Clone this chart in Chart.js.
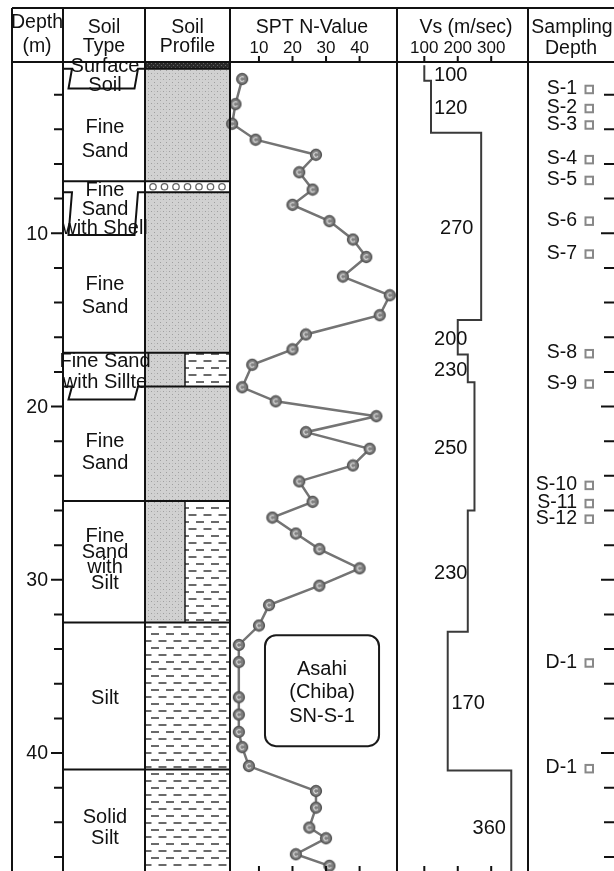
<!DOCTYPE html>
<html>
<head>
<meta charset="utf-8">
<title>Asahi (Chiba) SN-S-1 boring log</title>
<script src="https://cdn.jsdelivr.net/npm/chart.js@4/dist/chart.umd.min.js"></script>
<style>
  html, body { margin: 0; padding: 0; overflow: hidden; background: #fff; }
  #wrap { position: relative; width: 620px; height: 880px; }
</style>
</head>
<body>
<div id="wrap"><canvas id="log" width="620" height="880"></canvas></div>
<script>
// ---------------- Boring log data ----------------
const layerNames = [
  ["Surface", "Soil"],
  ["Fine", "Sand"],
  ["Fine", "Sand", "with Shell"],
  ["Fine", "Sand"],
  ["Fine Sand", "with Sillte"],
  ["Fine", "Sand"],
  ["Fine", "Sand", "with", "Silt"],
  ["Silt"],
  ["Solid", "Silt"]
];
const layerTops    = [0.0, 0.5, 7.0, 7.63, 16.9, 18.85, 25.45, 32.47, 40.95];
const layerBottoms = [0.5, 7.0, 7.63, 16.9, 18.85, 25.45, 32.47, 40.95, 47.5];
const layerKinds   = ["surface", "sand", "shell", "sand", "sandSilt", "sand", "sandSilt", "silt", "silt"];

// SPT N-values with their test depths (m)
const sptDepths = [1.1, 2.55, 3.68, 4.6, 5.47, 6.48, 7.48, 8.36, 9.3, 10.36,
                   11.37, 12.5, 13.58, 14.73, 15.84, 16.7, 17.59, 18.89, 19.7, 20.56,
                   21.48, 22.44, 23.4, 24.32, 25.5, 26.41, 27.33, 28.23, 29.34, 30.34,
                   31.46, 32.64, 33.76, 34.75, 36.78, 37.78, 38.78, 39.66, 40.75, 42.19,
                   43.15, 44.3, 44.92, 45.84, 46.51];
const sptValues = [5, 3, 2, 9, 27, 22, 26, 20, 31, 38,
                   42, 35, 49, 46, 24, 20, 8, 5, 15, 45,
                   24, 43, 38, 22, 26, 14, 21, 28, 40, 28,
                   13, 10, 4, 4, 4, 4, 4, 5, 7, 27,
                   27, 25, 30, 21, 31];

// Shear-wave velocity profile (m/sec)
const vsTops    = [0.3, 1.2, 4.2, 15.0, 17.0, 18.6, 26.0, 33.0, 41.0];
const vsBottoms = [1.2, 4.2, 15.0, 17.0, 18.6, 26.0, 33.0, 41.0, 47.5];
const vsValues  = [100, 120, 270, 200, 230, 250, 230, 170, 360];

// Sampling depths
const sampleNames  = ["S-1", "S-2", "S-3", "S-4", "S-5", "S-6", "S-7", "S-8", "S-9",
                      "S-10", "S-11", "S-12", "D-1", "D-1"];
const sampleDepths = [1.6, 2.7, 3.65, 5.65, 6.85, 9.2, 11.1, 16.85, 18.6,
                      24.45, 25.5, 26.4, 34.7, 40.8];

const sptTicks = [10, 20, 30, 40];
const vsTicks = [100, 200, 300];
const depthLabels = [10, 20, 30, 40];
const boreholeName = ["Asahi", "(Chiba)", "SN-S-1"];

// ---------------- Layout ----------------
const W = 620, H = 880;
const FRAME = { left: 12, right: 616, top: 8, headBottom: 62, bottom: 874 };
const COL = { depth: 63, type: 145, profile: 230, spt: 397, vs: 528 };
const PROFILE_SPLIT = 185;
const PAD = { left: FRAME.left, right: W - FRAME.right, top: 60, bottom: H - FRAME.bottom };
const DEPTH_MAX = (FRAME.bottom - PAD.top) / 17.38;
const FONT = '"Liberation Sans", Arial, sans-serif';

// notch drop (m) drawn below the bottom boundary of thin layers in the Soil Type column
const notchDrop = { 0: 1.15, 2: 2.47, 4: 0.75 };
const labelLineHeight = [19, 24, 19, 23, 21, 22, 15.5, 21, 21];
const labelNudge = [2, 5, 1, 2, 2, 2, -2, 2, 2];
// horizontal anchor of the Vs value labels, in m/sec
const vsLabelAt = [179, 179, 197, 179, 179, 179, 179, 231, 294];
// name box: N-value span and depth span
const nameBox = { n0: 11.8, n1: 45.8, d0: 33.2, d1: 39.6 };

// A linear scale spanning the whole chart area, such that v0..v1 falls on pixels p0..p1
function spanScale(v0, v1, p0, p1) {
  const k = (v1 - v0) / (p1 - p0);
  return { min: v0 - (p0 - FRAME.left) * k, max: v1 + (FRAME.right - p1) * k };
}
const nRange = spanScale(0, 50, 227, 396);
const vRange = spanScale(0, 400, 393.7, 528.5);

// Vs step line built from the layer table
const vsLine = [];
vsValues.forEach((v, i) => {
  vsLine.push({ x: v, y: vsTops[i] });
  vsLine.push({ x: v, y: vsBottoms[i] });
});
const sptPoints = sptValues.map((n, i) => ({ x: n, y: sptDepths[i] }));

// ---------------- Fill patterns ----------------
function makePattern(w, h, draw) {
  const c = document.createElement('canvas');
  c.width = w; c.height = h;
  draw(c.getContext('2d'));
  return c;
}
const sandTile = makePattern(6, 6, g => {
  g.fillStyle = '#d1d1d1'; g.fillRect(0, 0, 6, 6);
  g.fillStyle = '#9f9f9f';
  g.fillRect(1, 1, 1, 1); g.fillRect(4, 4, 1, 1);
  g.fillStyle = '#bdbdbd';
  g.fillRect(4, 1, 1, 1);
});
const siltTile = makePattern(15, 14, g => {
  g.fillStyle = '#ffffff'; g.fillRect(0, 0, 15, 14);
  g.fillStyle = '#6a6a6a';
  g.fillRect(1, 3, 8, 2);
  g.fillRect(8.5, 10, 6.5, 2); g.fillRect(0, 10, 1.5, 2);
});
const surfTile = makePattern(4, 4, g => {
  g.fillStyle = '#2a2a2a'; g.fillRect(0, 0, 4, 4);
  g.fillStyle = '#666'; g.fillRect(1, 1, 1, 1); g.fillRect(3, 3, 1, 1);
});
const sptMarker = makePattern(14, 14, g => {
  g.beginPath(); g.arc(7, 7, 5.4, 0, Math.PI * 2);
  g.fillStyle = '#808080'; g.fill();
  g.lineWidth = 1.5; g.strokeStyle = '#555'; g.stroke();
  g.beginPath(); g.arc(7, 7, 2.3, 0.6, Math.PI * 1.75);
  g.lineWidth = 1.2; g.strokeStyle = '#dadada'; g.stroke();
});

// ---------------- Drawing plugin ----------------
const logPlugin = {
  id: 'boringLog',
  beforeDatasetsDraw(chart) {
    const ctx = chart.ctx;
    const y = chart.scales.y;
    const yp = d => y.getPixelForValue(d);
    ctx.save();
    const sandP = ctx.createPattern(sandTile, 'repeat');
    const siltP = ctx.createPattern(siltTile, 'repeat');
    const surfP = ctx.createPattern(surfTile, 'repeat');

    // soil profile fills
    layerKinds.forEach((k, i) => {
      const y0 = Math.max(yp(layerTops[i]), FRAME.headBottom);
      const y1 = Math.min(yp(layerBottoms[i]), FRAME.bottom);
      const x0 = COL.type, x1 = COL.profile;
      if (k === 'surface') { ctx.fillStyle = surfP; ctx.fillRect(x0, y0, x1 - x0, y1 - y0); }
      else if (k === 'sand') { ctx.fillStyle = sandP; ctx.fillRect(x0, y0, x1 - x0, y1 - y0); }
      else if (k === 'silt') { ctx.fillStyle = siltP; ctx.fillRect(x0, y0, x1 - x0, y1 - y0); }
      else if (k === 'sandSilt') {
        ctx.fillStyle = sandP; ctx.fillRect(x0, y0, PROFILE_SPLIT - x0, y1 - y0);
        ctx.fillStyle = siltP; ctx.fillRect(PROFILE_SPLIT, y0, x1 - PROFILE_SPLIT, y1 - y0);
        ctx.strokeStyle = '#1a1a1a'; ctx.lineWidth = 1.5;
        ctx.beginPath(); ctx.moveTo(PROFILE_SPLIT, y0); ctx.lineTo(PROFILE_SPLIT, y1); ctx.stroke();
      } else if (k === 'shell') {
        ctx.fillStyle = '#fff'; ctx.fillRect(x0, y0, x1 - x0, y1 - y0);
        ctx.strokeStyle = '#666'; ctx.lineWidth = 1.3;
        const cy = (y0 + y1) / 2;
        for (let cx = x0 + 8; cx < x1 - 4; cx += 11.5) {
          ctx.beginPath(); ctx.arc(cx, cy, 3.2, 0, Math.PI * 2); ctx.stroke();
        }
      }
    });

    // layer boundaries
    ctx.strokeStyle = '#111'; ctx.lineWidth = 2;
    layerBottoms.forEach((b, i) => {
      if (i === layerBottoms.length - 1) return;
      const yy = yp(b);
      ctx.beginPath();
      if (notchDrop[i] !== undefined) {
        const yn = yp(b + notchDrop[i]);
        ctx.moveTo(COL.depth, yy); ctx.lineTo(COL.depth + 9, yy);
        ctx.lineTo(COL.depth + 5.5, yn); ctx.lineTo(COL.type - 10.5, yn);
        ctx.lineTo(COL.type - 7, yy); ctx.lineTo(COL.profile, yy);
      } else {
        ctx.moveTo(COL.depth, yy); ctx.lineTo(COL.profile, yy);
      }
      ctx.stroke();
    });

    // soil type names
    ctx.fillStyle = '#111';
    ctx.font = '20px ' + FONT;
    ctx.textAlign = 'center'; ctx.textBaseline = 'middle';
    const cx = (COL.depth + COL.type) / 2 + 1;
    layerNames.forEach((lines, i) => {
      const thick = layerBottoms[i] - layerTops[i];
      let top = layerTops[i];
      if (i > 0 && notchDrop[i - 1] !== undefined) top = layerBottoms[i - 1] + notchDrop[i - 1];
      let bot = layerBottoms[i];
      if (thick < 1 && notchDrop[i] !== undefined) bot = layerBottoms[i] + notchDrop[i];
      const mid = (yp(top) + yp(bot)) / 2 + labelNudge[i];
      const lh = labelLineHeight[i];
      lines.forEach((t, j) => {
        ctx.fillText(t, cx, mid + (j - (lines.length - 1) / 2) * lh);
      });
    });

    // name box in the SPT panel
    const bx0 = chart.scales.xN.getPixelForValue(nameBox.n0), bx1 = chart.scales.xN.getPixelForValue(nameBox.n1);
    const by0 = yp(nameBox.d0), by1 = yp(nameBox.d1);
    ctx.beginPath();
    ctx.roundRect(bx0, by0, bx1 - bx0, by1 - by0, 11);
    ctx.fillStyle = '#fff'; ctx.fill();
    ctx.strokeStyle = '#1a1a1a'; ctx.lineWidth = 2; ctx.stroke();
    ctx.fillStyle = '#111';
    boreholeName.forEach((t, j) => {
      ctx.fillText(t, (bx0 + bx1) / 2, (by0 + by1) / 2 + 2 + (j - 1) * 23.5);
    });
    ctx.restore();
  },

  afterDatasetsDraw(chart) {
    const ctx = chart.ctx;
    const y = chart.scales.y, xN = chart.scales.xN, xV = chart.scales.xV;
    const yp = d => y.getPixelForValue(d);
    ctx.save();

    // Vs values
    ctx.fillStyle = '#111';
    ctx.font = '20px ' + FONT;
    ctx.textAlign = 'center'; ctx.textBaseline = 'middle';
    vsValues.forEach((v, i) => {
      const mid = (yp(vsTops[i]) + yp(vsBottoms[i])) / 2 + 2;
      ctx.fillText(String(v), xV.getPixelForValue(vsLabelAt[i]), mid);
    });

    // sampling depths
    ctx.font = '19.5px ' + FONT;
    ctx.textAlign = 'right';
    sampleNames.forEach((s, i) => {
      const yy = yp(sampleDepths[i]);
      ctx.fillStyle = '#111';
      ctx.fillText(s, 577, yy + 1);
      ctx.strokeStyle = '#888'; ctx.lineWidth = 2;
      ctx.strokeRect(585.5, yy - 2, 7.5, 7.5);
    });

    // frame and column lines
    ctx.strokeStyle = '#111'; ctx.lineWidth = 2;
    ctx.beginPath();
    ctx.moveTo(FRAME.left, FRAME.top); ctx.lineTo(FRAME.right, FRAME.top);
    ctx.moveTo(FRAME.left, FRAME.headBottom); ctx.lineTo(FRAME.right, FRAME.headBottom);
    ctx.moveTo(FRAME.left, FRAME.bottom); ctx.lineTo(FRAME.right, FRAME.bottom);
    [FRAME.left, COL.depth, COL.type, COL.profile, COL.spt, COL.vs, FRAME.right].forEach(x => {
      ctx.moveTo(x, FRAME.top); ctx.lineTo(x, FRAME.bottom);
    });
    ctx.stroke();

    // depth ticks (left of soil type column, and on the right edge)
    ctx.lineWidth = 2;
    ctx.beginPath();
    for (let d = 2; d <= DEPTH_MAX; d += 2) {
      const yy = yp(d);
      const major = d % 10 === 0;
      ctx.moveTo(COL.depth - (major ? 12 : 9), yy); ctx.lineTo(COL.depth, yy);
      ctx.moveTo(FRAME.right - (major ? 15 : 12), yy); ctx.lineTo(FRAME.right, yy);
    }
    // N-value and Vs ticks, top and bottom
    sptTicks.forEach(n => {
      const x = xN.getPixelForValue(n);
      ctx.moveTo(x, FRAME.headBottom - 6); ctx.lineTo(x, FRAME.headBottom);
      ctx.moveTo(x, FRAME.bottom - 8); ctx.lineTo(x, FRAME.bottom);
    });
    vsTicks.forEach(v => {
      const x = xV.getPixelForValue(v);
      ctx.moveTo(x, FRAME.headBottom - 6); ctx.lineTo(x, FRAME.headBottom);
      ctx.moveTo(x, FRAME.bottom - 8); ctx.lineTo(x, FRAME.bottom);
    });
    ctx.stroke();

    ctx.fillStyle = '#111';
    ctx.font = '19.5px ' + FONT;
    ctx.textAlign = 'right'; ctx.textBaseline = 'middle';
    depthLabels.forEach(d => ctx.fillText(String(d), 48, yp(d) + 1));

    // header
    ctx.textAlign = 'center'; ctx.textBaseline = 'alphabetic';
    ctx.font = '19.5px ' + FONT;
    ctx.fillText('Depth', 37, 28);
    ctx.fillText('(m)', 37, 52);
    ctx.fillText('Soil', 104, 33);
    ctx.fillText('Type', 104, 52);
    ctx.fillText('Soil', 187.5, 33);
    ctx.fillText('Profile', 187.5, 52);
    ctx.fillText('SPT N-Value', 312, 33);
    ctx.fillText('Vs (m/sec)', 466, 33);
    ctx.fillText('Sampling', 572, 33);
    ctx.fillText('Depth', 571, 54);
    ctx.font = '17px ' + FONT;
    sptTicks.forEach(n => ctx.fillText(String(n), xN.getPixelForValue(n), 53));
    vsTicks.forEach(v => ctx.fillText(String(v), xV.getPixelForValue(v), 53));
    ctx.restore();
  }
};

new Chart(document.getElementById('log'), {
  type: 'scatter',
  data: {
    datasets: [
      {
        label: 'Vs (m/sec)',
        data: vsLine,
        xAxisID: 'xV',
        showLine: true,
        borderColor: '#3a3a3a',
        borderWidth: 2,
        pointRadius: 0,
        tension: 0
      },
      {
        label: 'SPT N-Value',
        data: sptPoints,
        xAxisID: 'xN',
        showLine: true,
        borderColor: '#747474',
        borderWidth: 2.5,
        pointStyle: sptMarker,
        pointRadius: 6,
        tension: 0
      }
    ]
  },
  options: {
    responsive: false,
    animation: false,
    devicePixelRatio: 1,
    layout: { padding: PAD },
    plugins: { legend: { display: false }, tooltip: { enabled: false }, title: { display: false } },
    scales: {
      y: { type: 'linear', reverse: true, min: 0, max: DEPTH_MAX, display: false },
      xN: { type: 'linear', position: 'bottom', min: nRange.min, max: nRange.max, display: false },
      xV: { type: 'linear', position: 'bottom', min: vRange.min, max: vRange.max, display: false }
    }
  },
  plugins: [logPlugin]
});
</script>
</body>
</html>
